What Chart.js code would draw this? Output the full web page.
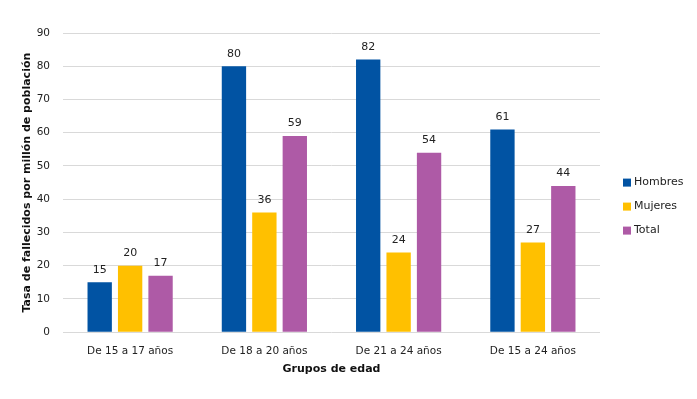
<!DOCTYPE html>
<html>
<head>
<meta charset="utf-8">
<script src="https://cdn.jsdelivr.net/npm/chart.js@4"></script>
<style>
  html, body { margin: 0; padding: 0; background: #fff; }
  #wrap { width: 697px; height: 399px; }
</style>
</head>
<body>
<div id="wrap"><canvas id="chart" width="697" height="399"></canvas></div>
<script>
const categories = ["De 15 a 17 años", "De 18 a 20 años", "De 21 a 24 años", "De 15 a 24 años"];
const hombres = [15, 80, 82, 61];
const mujeres = [20, 36, 24, 27];
const total = [17, 59, 54, 44];
const yTicks = [0, 10, 20, 30, 40, 50, 60, 70, 80, 90];

const FONT = "'DejaVu Sans', Verdana, sans-serif";

// draws the number over each bar
const valueLabels = {
  id: "valueLabels",
  afterDatasetsDraw(chart) {
    const ctx = chart.ctx;
    ctx.save();
    ctx.font = "11px " + FONT;
    ctx.fillStyle = "#222";
    ctx.textAlign = "center";
    ctx.textBaseline = "bottom";
    chart.data.datasets.forEach((ds, i) => {
      const meta = chart.getDatasetMeta(i);
      meta.data.forEach((bar, j) => {
        ctx.fillText(ds.data[j], bar.x, bar.y - 7);
      });
    });
    ctx.restore();
  }
};

// legend on the right, a bit below the middle like the original
const sideLegend = {
  id: "sideLegend",
  afterDraw(chart) {
    const ctx = chart.ctx;
    const area = chart.chartArea;
    const x = area.right + 23;
    let y = (area.top + area.bottom) / 2;
    ctx.save();
    ctx.font = "11px " + FONT;
    ctx.textBaseline = "middle";
    ctx.textAlign = "left";
    chart.data.datasets.forEach(ds => {
      ctx.fillStyle = ds.backgroundColor;
      ctx.fillRect(x, y - 4, 8, 8);
      ctx.fillStyle = "#222";
      ctx.fillText(ds.label, x + 11, y);
      y += 24;
    });
    ctx.restore();
  }
};

new Chart(document.getElementById("chart"), {
  type: "bar",
  data: {
    labels: categories,
    datasets: [
      { label: "Hombres", data: hombres, backgroundColor: "#0153A3" },
      { label: "Mujeres", data: mujeres, backgroundColor: "#FFC000" },
      { label: "Total", data: total, backgroundColor: "#AE5AA6" }
    ]
  },
  options: {
    responsive: false,
    animation: false,
    layout: { padding: { top: 33, right: 97, left: 21, bottom: 19 } },
    datasets: {
      bar: { categoryPercentage: 0.68, barPercentage: 0.8 }
    },
    scales: {
      x: {
        grid: { display: false },
        border: { display: false },
        ticks: { color: "#222", font: { family: FONT, size: 10.5 }, padding: 5 },
        title: {
          display: true, text: "Grupos de edad", color: "#111",
          font: { family: FONT, size: 11, weight: "bold" }, padding: { top: 0 }
        }
      },
      y: {
        min: 0, max: 90,
        afterBuildTicks: (axis) => { axis.ticks = yTicks.map(v => ({ value: v })); },
        afterFit: (axis) => { axis.width = 42; },
        grid: { color: "#d9d9d9", drawTicks: false },
        border: { display: false },
        ticks: { color: "#222", font: { family: FONT, size: 10.5 }, padding: 13 },
        title: {
          display: true, text: "Tasa de fallecidos por millón de población", color: "#111",
          font: { family: FONT, size: 11, weight: "bold" }, padding: { top: 0, bottom: 2 }
        }
      }
    },
    plugins: {
      tooltip: { enabled: false },
      legend: { display: false }
    }
  },
  plugins: [valueLabels, sideLegend]
});
</script>
</body>
</html>
